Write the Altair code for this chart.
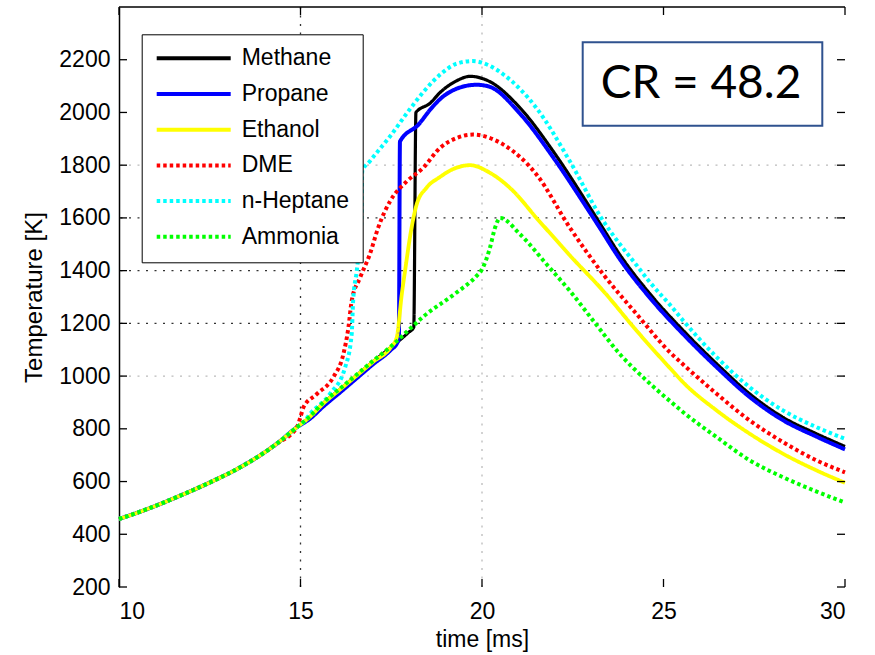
import altair as alt
import pandas as pd

FONT = "Liberation Sans"

fuels = ["Methane", "Propane", "Ethanol", "DME", "n-Heptane", "Ammonia"]
colors = ["#000000", "#0000ff", "#ffff00", "#ff0000", "#00ffff", "#00ff00"]
dashes = [[1, 0], [1, 0], [1, 0], [3.5, 3], [3.5, 3], [3.5, 3]]
widths = [3.2, 4, 3.8, 4, 4, 4]

# shared compression stroke (all fuels)
base_t = [10.0, 10.67, 11.59, 12.51, 13.43, 14.34, 14.9]
base_T = [458, 490, 541, 597, 661, 743, 806]

methane_t = [15.26, 15.63, 16.09, 16.55, 17.0, 17.47, 17.97, 18.12, 18.18, 18.57, 18.84, 19.3, 19.67, 20.2,
             21.05, 21.96, 22.88, 23.2, 23.8, 24.7, 25.55, 26.47, 27.38, 28.3, 29.22, 30.0]
methane_T = [845, 897, 950, 1003, 1055, 1107, 1165, 1185, 2000, 2035, 2075, 2120, 2137, 2118,
             2017, 1853, 1660, 1590, 1460, 1300, 1172, 1046, 932, 843, 781, 733]

propane_t = [15.26, 15.63, 16.09, 16.55, 17.0, 17.47, 17.68, 17.71, 17.74, 18.25, 18.6, 18.84, 19.3,
             19.85, 20.2, 21.05, 21.96, 22.88, 23.2, 23.8, 24.7, 25.55, 26.47, 27.38, 28.3, 29.22, 30.0]
propane_T = [838, 885, 938, 992, 1045, 1097, 1130, 1146, 1890, 1954, 2015, 2050, 2090,
             2105, 2098, 1995, 1830, 1640, 1572, 1443, 1285, 1158, 1033, 920, 832, 770, 722]

ethanol_t = [15.26, 15.63, 16.09, 16.55, 17.0, 17.47, 17.65, 17.79, 17.88, 18.06, 18.2, 18.47, 18.84,
             19.2, 19.67, 20.22, 20.86, 21.5, 22.05, 22.42, 23.34, 24.26, 25.18, 25.55, 26.47, 27.38,
             28.3, 29.22, 30.0]
ethanol_T = [845, 896, 949, 1002, 1054, 1106, 1146, 1310, 1399, 1563, 1651, 1714, 1755,
             1785, 1800, 1771, 1702, 1600, 1515, 1458, 1323, 1172, 1030, 975, 869, 781,
             705, 642, 595]

dme_t = [15.0, 15.08, 15.45, 15.9, 16.18, 16.32, 16.41, 16.64, 16.91, 17.14, 17.47, 17.93, 18.38, 18.84,
         19.3, 19.75, 20.59, 21.5, 22.42, 23.34, 24.26, 25.18, 25.55, 26.47, 27.38, 28.3, 29.22, 30.0]
dme_T = [845, 881, 932, 995, 1083, 1184, 1285, 1373, 1462, 1563, 1664, 1739, 1790, 1865,
         1903, 1916, 1878, 1765, 1563, 1386, 1235, 1090, 1043, 932, 831, 749, 680, 635]

heptane_t = [15.08, 15.26, 15.81, 16.23, 16.41, 16.45, 16.55, 16.6, 16.68, 16.7, 16.91, 17.47, 18.0,
             18.4, 18.9, 19.3, 19.75, 20.2, 20.6, 21.5, 22.42, 23.34, 23.8, 24.26, 24.63, 25.18, 25.55,
             26.47, 27.38, 28.3, 29.22, 30.0]
heptane_T = [825, 856, 932, 1033, 1159, 1285, 1399, 1462, 1600, 1777, 1815, 1910, 2010,
             2080, 2150, 2185, 2195, 2178, 2143, 2017, 1815, 1588, 1500, 1420, 1355, 1270, 1209,
             1071, 957, 869, 806, 762]

ammonia_t = [15.26, 15.63, 16.09, 16.55, 17.0, 17.47, 18.02, 18.38, 19.3, 19.85, 20.0, 20.22, 20.36, 20.5,
             21.05, 21.78, 22.42, 23.15, 23.8, 24.44, 25.18, 25.55, 26.47, 27.38, 28.3, 29.22, 30.0]
ammonia_T = [847, 900, 953, 1006, 1058, 1110, 1180, 1225, 1317, 1380, 1405, 1487, 1563, 1600,
             1538, 1424, 1323, 1195, 1083, 995, 905, 862, 768, 680, 616, 562, 520]

series = {
    "Methane": (methane_t, methane_T),
    "Propane": (propane_t, propane_T),
    "Ethanol": (ethanol_t, ethanol_T),
    "DME": (dme_t, dme_T),
    "n-Heptane": (heptane_t, heptane_T),
    "Ammonia": (ammonia_t, ammonia_T),
}

x_ticks = [10, 15, 20, 25, 30]
y_ticks = [200, 400, 600, 800, 1000, 1200, 1400, 1600, 1800, 2000, 2200]
grid_dark_y = [1200, 1400, 1600]
grid_light_y = [1000, 1800]
grid_dark_x = [15]
grid_light_x = [20]

annotation = "CR = 48.2"

rows = []
for name in fuels:
    ts, Ts = series[name]
    full_t = base_t + ts
    full_T = base_T + Ts
    for i, (a, b) in enumerate(zip(full_t, full_T)):
        rows.append({"fuel": name, "t": a, "T": b, "i": i})
df = pd.DataFrame(rows)

W, H = 726, 580
xs = alt.Scale(domain=[10, 30], nice=False, zero=False)
ys = alt.Scale(domain=[200, 2400], nice=False, zero=False)

x_axis = alt.Axis(values=x_ticks, title="time [ms]", ticks=False, domain=False, grid=False,
                  labelFontSize=23, labelPadding=13, labelFont=FONT, labelColor="#000",
                  titleFontSize=23, titleFontWeight="normal", titleFont=FONT, titleColor="#000",
                  titlePadding=5, format="d")
y_axis = alt.Axis(values=y_ticks, title="Temperature [K]", ticks=False, domain=True,
                  domainColor="#000", domainWidth=1.5, grid=False,
                  labelFontSize=23, labelPadding=9, labelFont=FONT, labelColor="#000",
                  titleFontSize=24, titleFontWeight="normal", titleFont=FONT, titleColor="#000",
                  titlePadding=12, format="d")

legend = alt.Legend(title=None, orient="none", legendX=22.7, legendY=27.3,
                    fillColor="white", strokeColor="#000", padding=13,
                    symbolType="stroke", symbolSize=5476, symbolStrokeWidth=4,
                    labelFontSize=23, labelFont=FONT, labelColor="#000", labelOffset=9,
                    clipHeight=22, rowPadding=12.7)

color_enc = alt.Color("fuel:N", scale=alt.Scale(domain=fuels, range=colors), legend=legend)
dash_enc = alt.StrokeDash("fuel:N", scale=alt.Scale(domain=fuels, range=dashes), legend=legend)

layers = []

# grid lines
for vals, col in [(grid_dark_y, "#333"), (grid_light_y, "#bbb")]:
    layers.append(
        alt.Chart(pd.DataFrame({"v": vals})).mark_rule(color=col, strokeWidth=1.3, strokeDash=[2, 6.5])
        .encode(y=alt.Y("v:Q", scale=ys, axis=y_axis))
    )
for vals, col in [(grid_dark_x, "#333"), (grid_light_x, "#bbb")]:
    layers.append(
        alt.Chart(pd.DataFrame({"v": vals})).mark_rule(color=col, strokeWidth=1.3, strokeDash=[2, 6.5])
        .encode(x=alt.X("v:Q", scale=xs, axis=x_axis))
    )

# curves
for name, w in zip(fuels, widths):
    layers.append(
        alt.Chart(df).transform_filter(alt.datum.fuel == name)
        .mark_line(strokeWidth=w, strokeCap="butt", interpolate="monotone")
        .encode(x=alt.X("t:Q", scale=xs, axis=x_axis),
                y=alt.Y("T:Q", scale=ys, axis=y_axis),
                color=color_enc, strokeDash=dash_enc, order="i:Q")
    )

# inward tick marks (MATLAB style)
xt = pd.DataFrame({"v": x_ticks})
yt = pd.DataFrame({"v": y_ticks})
tick_style = dict(color="#000", strokeWidth=1.3)
layers.append(alt.Chart(xt).mark_rule(**tick_style).encode(
    x=alt.X("v:Q", scale=xs, axis=x_axis), y=alt.value(H - 8), y2=alt.value(H)))
layers.append(alt.Chart(xt).mark_rule(**tick_style).encode(
    x=alt.X("v:Q", scale=xs, axis=x_axis), y=alt.value(0), y2=alt.value(8)))
layers.append(alt.Chart(yt).mark_rule(**tick_style).encode(
    y=alt.Y("v:Q", scale=ys, axis=y_axis), x=alt.value(0), x2=alt.value(8)))
layers.append(alt.Chart(yt).mark_rule(**tick_style).encode(
    y=alt.Y("v:Q", scale=ys, axis=y_axis), x=alt.value(W - 8), x2=alt.value(W)))

# top frame line
one = pd.DataFrame({"label": [annotation]})
layers.append(alt.Chart(one).mark_rule(color="#000", strokeWidth=1.5).encode(
    x=alt.value(0), x2=alt.value(W), y=alt.value(0)))

# CR annotation box
layers.append(alt.Chart(one).mark_rect(fill="white", stroke="#2F528F", strokeWidth=2).encode(
    x=alt.value(463.7), x2=alt.value(703.3), y=alt.value(35.3), y2=alt.value(118.7)))
layers.append(alt.Chart(one).mark_text(font="Lato", fontSize=46, color="#000",
                                       align="center", baseline="middle").encode(
    x=alt.value(582), y=alt.value(77), text="label:N"))

chart = alt.layer(*layers).properties(
    width=W, height=H,
    autosize=alt.AutoSizeParams(type="none"),
    padding={"left": 119, "top": 7, "right": 30, "bottom": 68},
).configure_view(stroke=None)

chart.save("out.html", embed_options={"renderer": "svg", "actions": False})
